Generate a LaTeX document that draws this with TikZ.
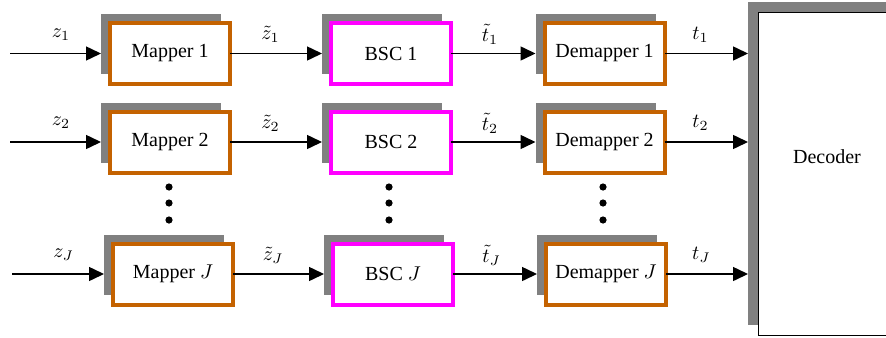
\documentclass[tikz,border=0pt]{standalone}
\usepackage{fontspec}
\setmainfont{Liberation Serif}
\usetikzlibrary{arrows.meta}
\definecolor{mapcol}{RGB}{196,98,0}
\definecolor{bsccol}{RGB}{255,0,255}
\definecolor{shadecol}{RGB}{128,128,128}

\begin{document}
\begin{tikzpicture}[x=0.5pt,y=-0.5pt,
  blk/.style={rectangle, minimum width=60pt, minimum height=30.5pt, line width=2pt,
    fill=white, font=\fontsize{10}{12}\selectfont, inner sep=0pt, outer sep=0pt},
  mapbox/.style={blk, draw=mapcol},
  bscbox/.style={blk, draw=bsccol},
  shade/.style={rectangle, fill=shadecol, minimum width=60pt, minimum height=30pt,
    inner sep=0pt, outer sep=0pt},
  link/.style={line width=0.75pt, -{Triangle[length=7.5pt,width=7pt]}},
  sig/.style={font=\fontsize{10}{12}\selectfont, inner sep=0pt},
  dot/.style={circle, fill=black, inner sep=0pt, minimum size=3.6pt}
]
\clip (0,0) rectangle (886,337);

% decoder block with its shadow
\node[rectangle, fill=shadecol, anchor=north west, minimum width=121pt,
  minimum height=161.5pt, inner sep=0pt, outer sep=0pt] (decs) at (748,2) {};
\node[rectangle, draw=black, line width=0.5pt, fill=white, anchor=north west,
  minimum width=121pt, minimum height=161.5pt, inner sep=0pt, outer sep=0pt] (dec) at (758,12) {};
\node[sig] (declab) at (827,157) {Decoder};

% one chain mapper -> BSC -> demapper per row
\foreach \r/\y/\xa/\xb/\xc/\lab/\xs in {1/53.5/170/391/604.5/1/10, 2/142/170/391/604.5/2/10, J/274/173/393/606/$J$/12}{
  \node[shade] (ms\r) at (\xa-9,\y-9.5) {};
  \node[shade] (bs\r) at (\xb-9,\y-9.5) {};
  \node[shade] (ds\r) at (\xc-9,\y-9.5) {};
  \node[mapbox] (m\r) at (\xa,\y) {Mapper \lab};
  \node[bscbox] (b\r) at (\xb,\y) {BSC \lab};
  \node[mapbox] (d\r) at (\xc,\y) {Demapper \lab};
  \coordinate (in\r) at (\xs,\y);
  \draw[link] (in\r) -- node[sig, pos=0.56, yshift=9.5pt] (lz\r) {$z_\r$} (ms\r.west |- m\r.center);
  \draw[link] (m\r.east) -- node[sig, pos=0.44, yshift=9.5pt] (lzt\r) {$\tilde z_\r$} (bs\r.west |- b\r.center);
  \draw[link] (b\r.east) -- node[sig, pos=0.46, yshift=9.5pt] (ltt\r) {$\tilde t_\r$} (ds\r.west |- d\r.center);
  \draw[link] (d\r.east) -- node[sig, pos=0.43, yshift=9.5pt] (lt\r) {$t_\r$} (decs.west |- d\r.center);
}

% vertical ellipses between row 2 and row J
\foreach \x/\c in {169/m,389/b,603/d}{
  \node[dot] (\c dot1) at (\x,187) {};
  \node[dot] (\c dot2) at (\x,203) {};
  \node[dot] (\c dot3) at (\x,220) {};
}
\end{tikzpicture}
\end{document}
